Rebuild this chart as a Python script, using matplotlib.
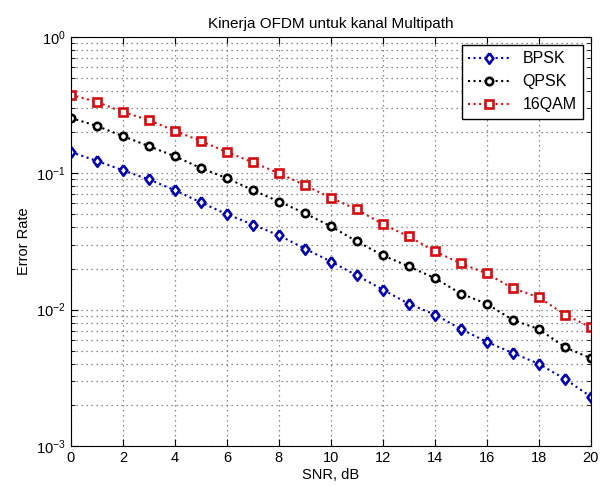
import numpy as np
import matplotlib
matplotlib.use("Agg")
import matplotlib.pyplot as plt
from matplotlib.ticker import LogLocator, NullFormatter, MultipleLocator

snr_db = list(range(0, 21))
ber_bpsk = [0.143, 0.123, 0.105, 0.090, 0.075, 0.061, 0.050, 0.042, 0.035, 0.028,
            0.0225, 0.0178, 0.014, 0.011, 0.0092, 0.0072, 0.0058, 0.0048, 0.0040,
            0.0031, 0.0023]
ber_qpsk = [0.254, 0.222, 0.187, 0.158, 0.133, 0.109, 0.092, 0.075, 0.062, 0.0508,
            0.0408, 0.0316, 0.025, 0.0207, 0.017, 0.0131, 0.011, 0.0084, 0.0072,
            0.0053, 0.0044]
ber_16qam = [0.375, 0.333, 0.281, 0.245, 0.204, 0.172, 0.143, 0.120, 0.100, 0.0816,
             0.066, 0.0543, 0.0422, 0.0344, 0.0267, 0.0218, 0.0184, 0.0143, 0.0123,
             0.0092, 0.0074]

plt.rcParams["font.family"] = ["Liberation Sans", "DejaVu Sans"]
plt.rcParams["font.size"] = 9

# matlab-ish diamond, a bit narrower than tall
diamond = [(0, 1), (0.75, 0), (0, -1), (-0.75, 0), (0, 1)]

fig = plt.figure(figsize=(6.06, 4.86), dpi=100)
ax = fig.add_axes([0.117, 0.0823, 0.858, 0.842])

ax.semilogy(snr_db, ber_bpsk, ":", color="#0000b0", lw=1.5, marker=diamond, ms=7.5,
            mfc="white", mew=1.9, label="BPSK")
ax.semilogy(snr_db, ber_qpsk, ":", color="black", lw=1.5, marker="o", ms=5.3,
            mfc="white", mew=1.9, label="QPSK")
ax.semilogy(snr_db, ber_16qam, ":", color="#d01010", lw=1.5, marker="s", ms=5.8,
            mfc="white", mew=1.9, label="16QAM")

ax.set_xlim(0, 20)
ax.set_ylim(1e-3, 1)
ax.xaxis.set_major_locator(MultipleLocator(2))
ax.yaxis.set_major_locator(LogLocator(base=10, numticks=10))
ax.yaxis.set_minor_locator(LogLocator(base=10, subs=np.arange(2, 10), numticks=20))
ax.yaxis.set_minor_formatter(NullFormatter())
ax.tick_params(which="both", direction="in", top=True, right=True, labelsize=10.5)
ax.tick_params(which="major", length=5)
ax.tick_params(which="minor", length=3)
dots = (0, (1, 3))
ax.grid(True, which="major", ls=dots, color="#666666", lw=0.9)
ax.grid(True, which="minor", axis="y", ls=dots, color="#666666", lw=0.9)

ax.set_xlabel("SNR, dB", fontsize=10.5, labelpad=2)
ax.set_ylabel("Error Rate", fontsize=10.5)
ax.set_title("Kinerja OFDM untuk kanal Multipath", fontsize=11)
ax.legend(loc="upper right", fontsize=11.5, fancybox=False, edgecolor="black",
          framealpha=1, handlelength=2.6, borderaxespad=0.5)

fig.savefig("out.png", dpi=100)
